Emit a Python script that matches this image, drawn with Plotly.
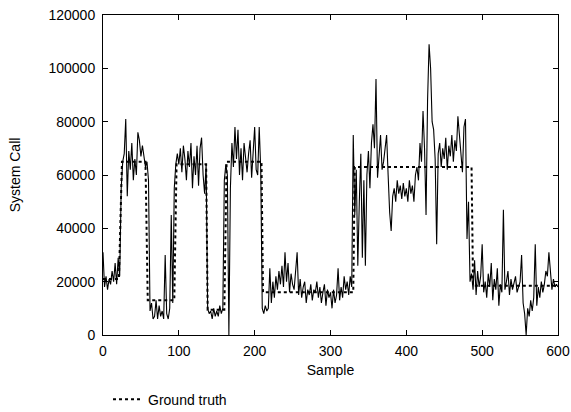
import plotly.graph_objects as go

# Measured system-call counts (thousands), every 2 samples
sample_x = list(range(0, 601, 2))
measured_k = [
    31, 18, 22, 17, 21, 19, 24, 20, 27, 19, 29, 22, 55, 65, 68, 81, 52, 69, 62, 72,
    58, 66, 60, 76, 73, 67, 71, 66, 63, 65, 58, 9, 12, 6, 7, 13, 6, 11, 7, 9,
    6, 30, 8, 6, 10, 45, 12, 55, 64, 68, 64, 70, 61, 71, 66, 58, 69, 63, 72, 55,
    67, 60, 71, 56, 70, 74, 60, 53, 64, 10, 8, 9, 6, 10, 7, 9, 7, 11, 8, 10,
    58, 64, 60, 0, 55, 72, 63, 78, 66, 77, 60, 70, 58, 72, 65, 61, 68, 73, 59, 67,
    78, 62, 60, 78, 62, 10, 8, 11, 9, 10, 25, 12, 20, 14, 22, 17, 24, 19, 26, 18,
    31, 20, 27, 16, 23, 19, 17, 24, 31, 15, 21, 14, 18, 20, 12, 17, 15, 19, 13, 17,
    16, 20, 14, 18, 12, 16, 19, 11, 17, 14, 16, 10, 17, 12, 15, 25, 13, 18, 14, 22,
    17, 20, 15, 22, 18, 75, 45, 62, 26, 50, 68, 29, 58, 26, 60, 69, 55, 72, 79, 70,
    96, 59, 68, 75, 62, 65, 70, 75, 60, 46, 39, 52, 55, 50, 58, 53, 56, 51, 57, 52,
    55, 50, 58, 53, 56, 50, 60, 63, 58, 72, 65, 84, 70, 45, 88, 109, 100, 80, 77, 66,
    34, 68, 72, 63, 70, 66, 74, 62, 71, 67, 75, 65, 73, 69, 82, 74, 66, 61, 78, 81,
    36, 50, 20, 23, 17, 28, 15, 24, 18, 22, 34, 16, 20, 14, 23, 18, 27, 13, 21, 17,
    25, 11, 19, 16, 47, 17, 20, 24, 15, 21, 17, 19, 22, 16, 18, 20, 30, 12, 8, 0,
    10, 7, 13, 9, 14, 34, 11, 18, 14, 20, 16, 19, 24, 22, 31, 25, 17, 21, 18, 19,
    18,
]
measured = [v * 1000 for v in measured_k]

# Ground truth step profile
truth_x = [0, 21, 25, 56, 59, 94, 97, 136, 138, 160, 163, 209, 211, 330, 332, 486, 488, 600]
truth_k = [21, 21, 65, 65, 13, 13, 64, 64, 9.5, 9.5, 65, 65, 16, 16, 63, 63, 18.5, 18.5]
truth = [v * 1000 for v in truth_k]

x_ticks = [0, 100, 200, 300, 400, 500, 600]
y_ticks = [0, 20000, 40000, 60000, 80000, 100000, 120000]

fig = go.Figure()
fig.add_trace(go.Scatter(x=sample_x, y=measured, mode="lines",
                         line=dict(color="black", width=1.1), showlegend=False,
                         name="Measured"))
fig.add_trace(go.Scatter(x=truth_x, y=truth, mode="lines",
                         line=dict(color="black", width=2, dash="dot"),
                         name="Ground truth"))

axis_common = dict(showline=True, linecolor="black", linewidth=1, mirror="ticks",
                   ticks="inside", ticklen=5, tickcolor="black", showgrid=False,
                   zeroline=False, automargin=False,
                   tickfont=dict(size=14, color="black"))

fig.update_layout(
    width=571, height=412,
    margin=dict(l=103, r=13, t=15, b=77),
    paper_bgcolor="white", plot_bgcolor="white",
    font=dict(family="Liberation Sans, Arial, sans-serif", size=14, color="black"),
    xaxis=dict(range=[0, 600], tickvals=x_ticks, ticktext=[str(v) for v in x_ticks],
               ticklabelstandoff=3,
               title=dict(text="Sample", standoff=7, font=dict(size=14)), **axis_common),
    yaxis=dict(range=[0, 120000], tickvals=y_ticks, ticktext=[str(v) for v in y_ticks],
               ticklabelstandoff=4,
               title=dict(text="System Call", standoff=24, font=dict(size=14)), **axis_common),
    legend=dict(x=0.011, xref="paper", y=0.03, yref="container",
                xanchor="left", yanchor="middle",
                bgcolor="rgba(0,0,0,0)", font=dict(size=14)),
    showlegend=True,
)

fig.write_html("out.html")
